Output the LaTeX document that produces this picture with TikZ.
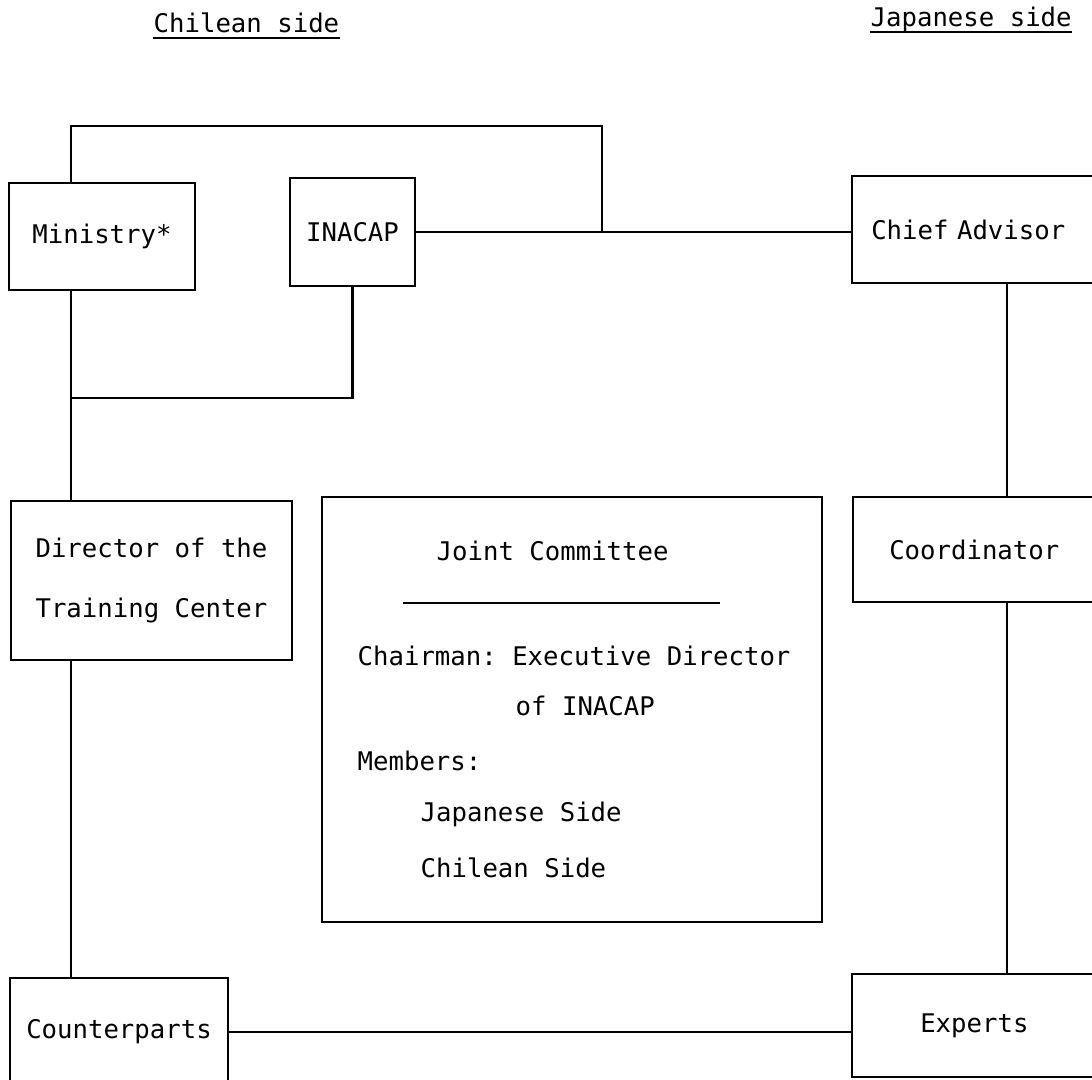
\documentclass[tikz,border=0pt]{standalone}
\usepackage{fontspec}
\setmainfont{DejaVu Sans Mono}[WordSpace={1,0,0}]
\frenchspacing
\tikzset{
  every node/.style={font=\fontsize{7.3}{9}\selectfont},
  unit/.style={draw, line width=0.7pt, inner sep=0pt, align=center},
  sideunit/.style={unit, anchor=west, text width=26mm, align=left},
  txt/.style={anchor=base west, inner sep=0pt},
  link/.style={line width=0.6pt}
}
\begin{document}
\begin{tikzpicture}[x=0.01cm, y=-0.01cm]
  \clip (0,0) rectangle (1092,1079);
  \node[txt] (chilehead) at (153,33) {Chilean side};
  \node[txt] (japanhead) at (870,27) {Japanese side};
  \draw[link] ([yshift=-1.5pt]chilehead.base west) -- ([yshift=-1.5pt]chilehead.base east);
  \draw[link] ([yshift=-1.5pt]japanhead.base west) -- ([yshift=-1.5pt]japanhead.base east);

  \node[unit, minimum width=18.6mm, minimum height=10.7mm] (ministry) at (102,236.5) {Ministry*};
  \node[unit, minimum width=12.5mm, minimum height=10.8mm] (inacap) at (352.5,232) {INACAP};
  \node[sideunit, inner xsep=1.9mm, minimum height=10.7mm] (chief) at (851,229.5) {Chief Advisor};
  \node[unit, minimum width=28.1mm, minimum height=15.9mm, font=\fontsize{7.3}{17}\selectfont] (director) at (151.5,580.5) {Director of the\\Training Center};
  \node[sideunit, inner xsep=3.6mm, minimum height=10.5mm] (coord) at (852,549.5) {Coordinator};
  \node[unit, minimum width=50mm, minimum height=42.5mm] (committee) at (572,709.5) {};
  \node[unit, minimum width=21.8mm, minimum height=10.8mm] (counter) at (119,1032) {Counterparts};
  \node[sideunit, inner xsep=6.8mm, minimum height=10.3mm] (experts) at (851,1025.5) {Experts};

  \node[txt] (jctitle) at (436,560) {Joint Committee};
  \draw[link] (403,603) -- (720,603);
  \node[txt] (jcchair) at (357,665) {Chairman: Executive Director};
  \node[txt] (jcof) at (515,715) {of INACAP};
  \node[txt] (jcmembers) at (357,770) {Members:};
  \node[txt] (jcjapan) at (420,821) {Japanese Side};
  \node[txt] (jcchile) at (420,877) {Chilean Side};

  \coordinate (bus) at (71,398);
  \coordinate (top) at (602,126);
  \coordinate (rbus) at (1007,0);
  \draw[link] (ministry.north -| bus) |- (top) -- (top |- inacap.east);
  \draw[link] (inacap.east) -- (inacap.east -| chief.west);
  \draw[link] (ministry.south -| bus) -- (bus) -| (inacap.south);
  \draw[link] (bus) -- (director.north -| bus);
  \draw[link] (director.south -| bus) -- (counter.north -| bus);
  \draw[link] (chief.south -| rbus) -- (coord.north -| rbus);
  \draw[link] (coord.south -| rbus) -- (experts.north -| rbus);
  \draw[link] (counter.east) -- (counter.east -| experts.west);
\end{tikzpicture}
\end{document}
